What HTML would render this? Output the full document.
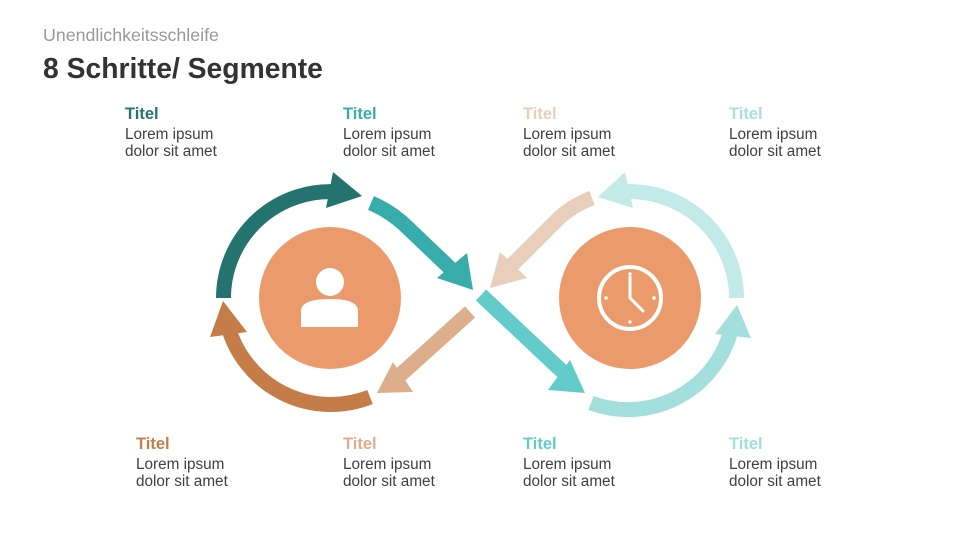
<!DOCTYPE html>
<html><head><meta charset="utf-8"><style>
body{margin:0;width:960px;height:540px;background:#fff;font-family:"Liberation Sans",sans-serif;position:relative;overflow:hidden}
.t{position:absolute;font-size:15.3px;line-height:17px;color:#404040}
.t b{display:block;font-size:16.5px;line-height:20px;margin-bottom:2px}
</style></head><body>
<div style="position:absolute;left:43px;top:25px;font-size:17.8px;color:#999">Unendlichkeitsschleife</div>
<div style="position:absolute;left:43px;top:52px;font-size:28.3px;font-weight:bold;color:#333">8 Schritte/ Segmente</div>

<div class="t" style="left:125px;top:104px"><b style="color:#24736f">Titel</b>Lorem ipsum<br>dolor sit amet</div>
<div class="t" style="left:343px;top:104px"><b style="color:#38acab">Titel</b>Lorem ipsum<br>dolor sit amet</div>
<div class="t" style="left:523px;top:104px"><b style="color:#e9cebc">Titel</b>Lorem ipsum<br>dolor sit amet</div>
<div class="t" style="left:729px;top:104px"><b style="color:#a9e0de">Titel</b>Lorem ipsum<br>dolor sit amet</div>
<div class="t" style="left:136px;top:434px"><b style="color:#c47c48">Titel</b>Lorem ipsum<br>dolor sit amet</div>
<div class="t" style="left:343px;top:434px"><b style="color:#dcae8c">Titel</b>Lorem ipsum<br>dolor sit amet</div>
<div class="t" style="left:523px;top:434px"><b style="color:#63cccb">Titel</b>Lorem ipsum<br>dolor sit amet</div>
<div class="t" style="left:729px;top:434px"><b style="color:#a2dfdd">Titel</b>Lorem ipsum<br>dolor sit amet</div>

<svg width="960" height="540" style="position:absolute;left:0;top:0" fill="none">
<path d="M223.5 298 A106.5 106.5 0 0 1 339 192" stroke="#24736f" stroke-width="15"/>
<polygon points="362,196 333,172 326,208" fill="#24736f"/>
<path d="M370 397 A106.5 106.5 0 0 1 228 326" stroke="#c47c48" stroke-width="15"/>
<polygon points="223,301 210,337 247,332" fill="#c47c48"/>
<path d="M371 203 Q392 212 408 228 L452 270" stroke="#38acab" stroke-width="15"/>
<polygon points="473,290 437,278 467,253" fill="#38acab"/>
<path d="M470 312 L398 377" stroke="#dcae8c" stroke-width="15"/>
<polygon points="377,393 393,362 413,392" fill="#dcae8c"/>
<path d="M481 295 L564 373" stroke="#63cccb" stroke-width="15"/>
<polygon points="585,393 548,390 570,360" fill="#63cccb"/>
<path d="M591 403 A106.5 106.5 0 0 0 732 326" stroke="#a2dfdd" stroke-width="15"/>
<polygon points="737,305 715,334 751,338" fill="#a2dfdd"/>
<path d="M736.5 298 A106.5 106.5 0 0 0 621 192" stroke="#c2eae9" stroke-width="15"/>
<polygon points="598,197 625,172 633,208" fill="#c2eae9"/>
<path d="M592 198 Q571 206 556 221 L512 265" stroke="#e9cebc" stroke-width="15"/>
<polygon points="490,288 500,252 527,278" fill="#e9cebc"/>
<circle cx="330" cy="298" r="71" fill="#eb9b6b"/>
<circle cx="630" cy="298" r="71" fill="#eb9b6b"/>
<circle cx="330" cy="282" r="14" fill="#fff"/>
<path d="M301 327 L301 311 Q301 299 330 299 Q358 299 358 311 L358 327 Z" fill="#fff"/>
<circle cx="630" cy="298" r="31" stroke="#fff" stroke-width="4"/>
<path d="M630 277 L630 298 L643 311" stroke="#fff" stroke-width="3" stroke-linecap="round" stroke-linejoin="round"/>
<g fill="#fff"><circle cx="630" cy="274" r="1.7"/><circle cx="630" cy="322" r="1.7"/><circle cx="606" cy="298" r="1.7"/><circle cx="654" cy="298" r="1.7"/></g>
</svg>
</body></html>
